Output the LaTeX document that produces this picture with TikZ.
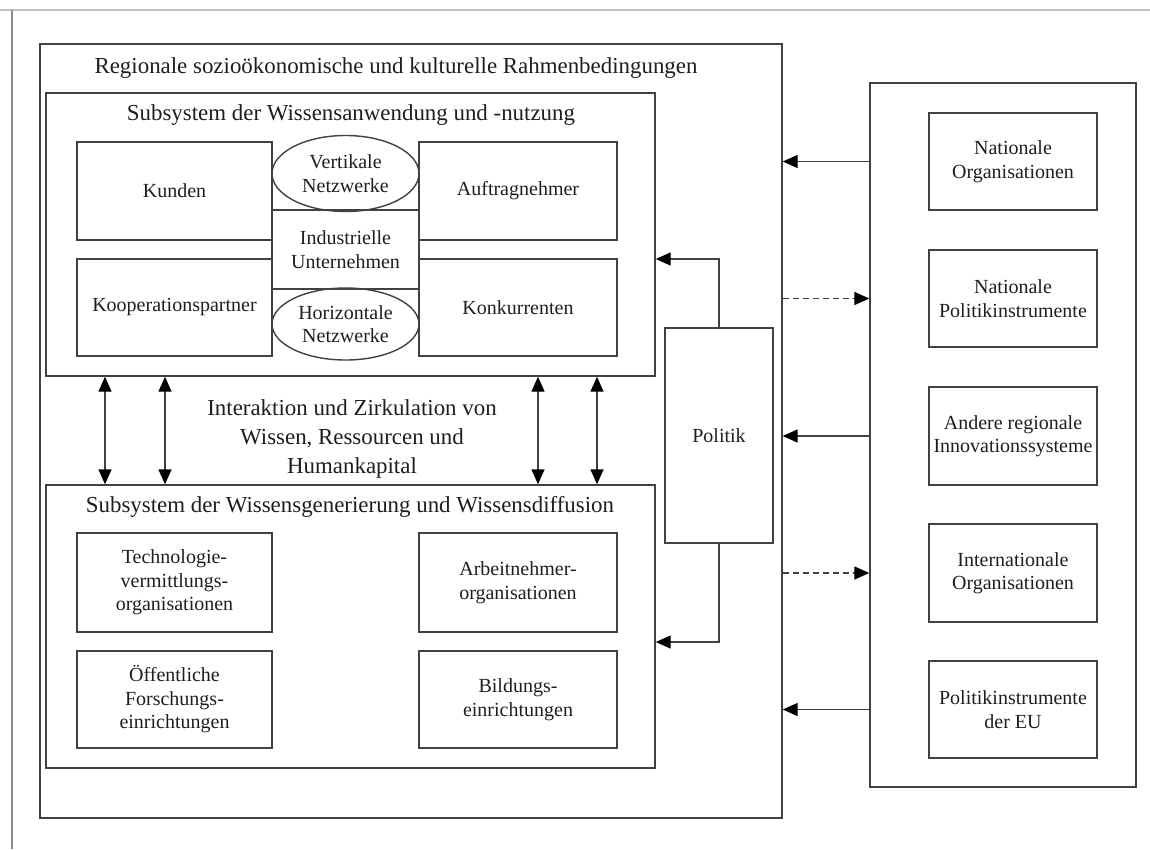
\documentclass[tikz,border=0pt]{standalone}
\usepackage{fontspec}
\setmainfont{Liberation Serif}
\usetikzlibrary{arrows.meta,shapes.geometric}
\definecolor{ln}{RGB}{65,65,65}
\definecolor{tx}{RGB}{30,30,30}
\begin{document}
\begin{tikzpicture}[x=1pt,y=-1pt,
  every node/.style={text=tx},
  frm/.style={draw=ln,line width=1.4pt,inner sep=0pt,anchor=center},
  bx/.style={frm,align=center,font=\fontsize{20}{23.5}\selectfont},
  ell/.style={draw=ln,line width=1.4pt,ellipse,inner sep=0pt,align=center,font=\fontsize{20}{23.5}\selectfont},
  ttl/.style={font=\fontsize{22.9}{29}\selectfont,inner sep=0pt,align=center},
  tip/.tip={Triangle[length=15pt,width=13pt,fill=black,color=black]},
  arr/.style={draw=ln,line width=1.4pt,-tip},
  darr/.style={arr,dash pattern=on 6pt off 4pt},
  dbl/.style={draw=ln,line width=1.4pt,tip-tip}
]
\useasboundingbox (0,0) rectangle (1150,849);
% page edges of the screenshot
\draw[black!25,line width=1.6pt] (0,10) -- (1150,10);
\draw[black!45,line width=1.4pt] (12,10) -- (12,849);

% outer frame
\node[frm,minimum width=742pt,minimum height=774pt] (frame) at (411,431) {};
\node[ttl] (rtitle) at (396,68) {Regionale sozioökonomische und kulturelle Rahmenbedingungen};

% top subsystem
\node[frm,minimum width=609pt,minimum height=283pt] (topsub) at (350.5,234.5) {};
\node[ttl] (toptitle) at (351,115) {Subsystem der Wissensanwendung und -nutzung};
\node[bx,minimum width=195pt,minimum height=98pt] (kunden) at (174.5,191) {Kunden};
\node[bx,minimum width=198pt,minimum height=98pt] (auftrag) at (518,191) {Auftragnehmer};
\node[bx,minimum width=195pt,minimum height=97pt] (koop) at (174.5,307.5) {Kooperationspartner};
\node[bx,minimum width=198pt,minimum height=97pt] (konk) at (518,307.5) {Konkurrenten};
\node[bx,minimum width=147pt,minimum height=79pt] (indu) at (345.5,249.5) {Industrielle\\Unternehmen};
\node[ell,minimum width=147pt,minimum height=76pt] (vert) at (345.5,173.5) {Vertikale\\Netzwerke};
\node[ell,minimum width=147pt,minimum height=72pt] (hori) at (345.5,324) {Horizontale\\Netzwerke};

% middle text
\node[ttl] (inter) at (352,439) {Interaktion und Zirkulation von\\Wissen, Ressourcen und\\Humankapital};

% bottom subsystem
\node[frm,minimum width=609pt,minimum height=283pt] (botsub) at (350.5,626.5) {};
\node[ttl] (bottitle) at (350,507) {Subsystem der Wissensgenerierung und Wissensdiffusion};
\node[bx,minimum width=195pt,minimum height=99pt] (tech) at (174.5,582.5) {Technologie-\\vermittlungs-\\organisationen};
\node[bx,minimum width=198pt,minimum height=99pt] (arbeit) at (518,582.5) {Arbeitnehmer-\\organisationen};
\node[bx,minimum width=195pt,minimum height=97pt] (oeff) at (174.5,699.5) {Öffentliche\\Forschungs-\\einrichtungen};
\node[bx,minimum width=198pt,minimum height=97pt] (bild) at (518,699.5) {Bildungs-\\einrichtungen};

% Politik
\node[bx,minimum width=108pt,minimum height=215pt] (politik) at (719,435.5) {Politik};

% right column
\node[frm,minimum width=266pt,minimum height=704pt] (rbox) at (1003,435) {};
\node[bx,minimum width=168pt,minimum height=97pt] (natorg) at (1013,161.5) {Nationale\\Organisationen};
\node[bx,minimum width=168pt,minimum height=97pt] (natpol) at (1013,298.5) {Nationale\\Politikinstrumente};
\node[bx,minimum width=168pt,minimum height=98pt] (andere) at (1013,436) {Andere regionale\\Innovationssysteme};
\node[bx,minimum width=168pt,minimum height=98pt] (intl) at (1013,573) {Internationale\\Organisationen};
\node[bx,minimum width=168pt,minimum height=97pt] (eu) at (1013,709.5) {Politikinstrumente\\der EU};

% connectors right column <-> frame
\draw[arr] (rbox.west |- natorg) -- (frame.east |- natorg);
\draw[darr] (frame.east |- natpol) -- (rbox.west |- natpol);
\draw[arr] (rbox.west |- andere) -- (frame.east |- andere);
\draw[darr] (frame.east |- intl) -- (rbox.west |- intl);
\draw[arr] (rbox.west |- eu) -- (frame.east |- eu);

% Politik connectors
\draw[arr] (politik.north) |- (topsub.east |- 0,259);
\draw[arr] (politik.south) |- (botsub.east |- 0,642);

% double arrows between subsystems
\foreach \xx in {105,165,538,597}{
  \draw[dbl] (topsub.south -| \xx,0) -- (botsub.north -| \xx,0);
}
\end{tikzpicture}
\end{document}
